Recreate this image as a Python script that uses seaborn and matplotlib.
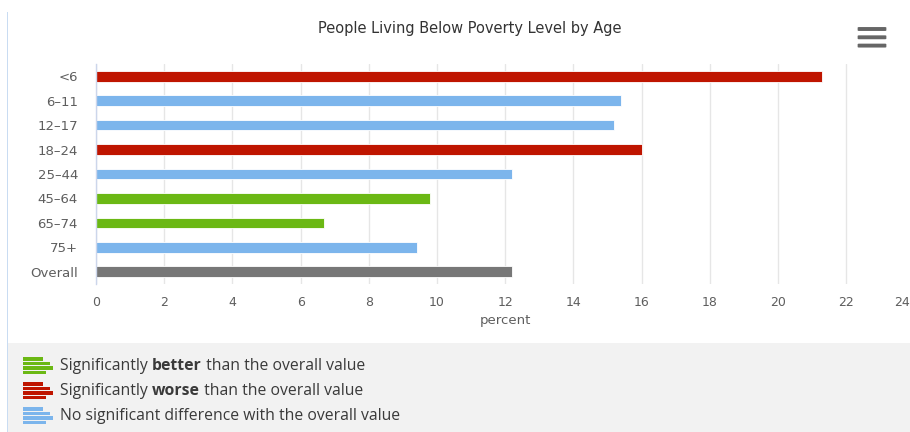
import matplotlib
matplotlib.use("Agg")
import matplotlib.pyplot as plt
import matplotlib.transforms as mtransforms
from matplotlib.patches import Rectangle, FancyBboxPatch
import seaborn as sns
import pandas as pd

# Share of people below the poverty level, by age group
age_groups = ["<6", "6-11", "12-17", "18-24", "25-44", "45-64", "65-74", "75+", "Overall"]
percent = [21.3, 15.4, 15.2, 16.0, 12.2, 9.8, 6.7, 9.4, 12.2]
significance = ["worse", "none", "none", "worse", "none", "better", "better", "none", "overall"]

x_ticks = [0, 2, 4, 6, 8, 10, 12, 14, 16, 18, 20, 22, 24]

status_colors = {
    "better": "#6bb814",
    "worse": "#bf1500",
    "none": "#7cb5ec",
    "overall": "#777777",
}

legend_rows = [
    ("better", ["Significantly ", "better", " than the overall value"]),
    ("worse", ["Significantly ", "worse", " than the overall value"]),
    ("none", ["No significant difference with the overall value"]),
]

df = pd.DataFrame({"age": age_groups, "percent": percent, "status": significance})

sns.set_theme(style="white")
plt.rcParams["font.family"] = ["DejaVu Sans"]

W, H = 910, 432
fig = plt.figure(figsize=(W / 100, H / 100), dpi=100)
fig.patch.set_facecolor("white")

# Plot area in pixel coordinates
left_px, top_px, bottom_px = 96, 64, 284
unit_px = 34.1
right_px = left_px + unit_px * 24
ax = fig.add_axes([left_px / W, 1 - bottom_px / H,
                   (right_px - left_px) / W, (bottom_px - top_px) / H])

sns.barplot(data=df, y="age", x="percent", hue="status", palette=status_colors,
            order=age_groups, dodge=False, width=0.44, legend=False, ax=ax,
            saturation=1, edgecolor="white", linewidth=0.6)

label_color = "#5e5e5e"
ax.set_xlim(0, 24)
ax.set_xticks(x_ticks)
ax.set_xticklabels([str(t) for t in x_ticks], fontsize=9, color=label_color)
ax.set_yticks(range(len(age_groups)))
ax.set_yticklabels([a.replace("-", "\u2013") for a in age_groups], fontsize=9.5, color=label_color)
ax.set_ylabel("")
ax.set_xlabel("percent", fontsize=9.5, color=label_color, labelpad=3)
ax.grid(axis="x", color="#e6e6e6", linewidth=1)
ax.set_axisbelow(True)
for side in ["top", "right", "bottom"]:
    ax.spines[side].set_visible(False)
ax.spines["left"].set_color("#ccd6eb")
ax.spines["left"].set_linewidth(1)
ax.tick_params(axis="x", length=4, color="#e6e6e6", pad=5)
ax.tick_params(axis="y", length=0, pad=13)

# The last tick label sits on the right edge; nudge it inward to keep it readable
last = ax.get_xticklabels()[-1]
last.set_transform(last.get_transform() + mtransforms.ScaledTranslation(-0.12, 0, fig.dpi_scale_trans))

# Title and menu icon
fig.text(470 / W, 1 - 29 / H, "People Living Below Poverty Level by Age",
         ha="center", va="center", fontsize=10.5, color="#333333")
for yy in (29, 37.3, 45.6):
    fig.add_artist(FancyBboxPatch((859 / W, 1 - (yy + 1.3) / H), 26 / W, 2.6 / H,
                                  boxstyle="round,pad=0.0015", transform=fig.transFigure,
                                  color="#666666", lw=0))

# Left border line of the chart container
fig.add_artist(Rectangle((7 / W, 0), 1.3 / W, (H - 12) / H,
                         transform=fig.transFigure, color="#c9dcf2", lw=0))

# Legend panel
fig.add_artist(Rectangle((8.3 / W, 0), (W - 8.3) / W, (H - 343) / H,
                         transform=fig.transFigure, color="#f2f2f2", lw=0))

icon_bars = [(20, 0), (27, 4.6), (30, 9.2), (23, 13.8)]
renderer = fig.canvas.get_renderer()
for i, (status, parts) in enumerate(legend_rows):
    cy = 366 + 25 * i
    for length, dy in icon_bars:
        fig.add_artist(Rectangle((23 / W, 1 - (cy - 9 + dy + 3.6) / H), length / W, 3.6 / H,
                                 transform=fig.transFigure, color=status_colors[status], lw=0))
    x = 60
    for j, part in enumerate(parts):
        weight = "bold" if (len(parts) == 3 and j == 1) else "normal"
        t = fig.text(x / W, 1 - cy / H, part, ha="left", va="center", fontsize=11.3,
                     color="#3a3a3a", fontweight=weight, family="Open Sans")
        x += t.get_window_extent(renderer=renderer).width

fig.savefig("out.png", dpi=100)
